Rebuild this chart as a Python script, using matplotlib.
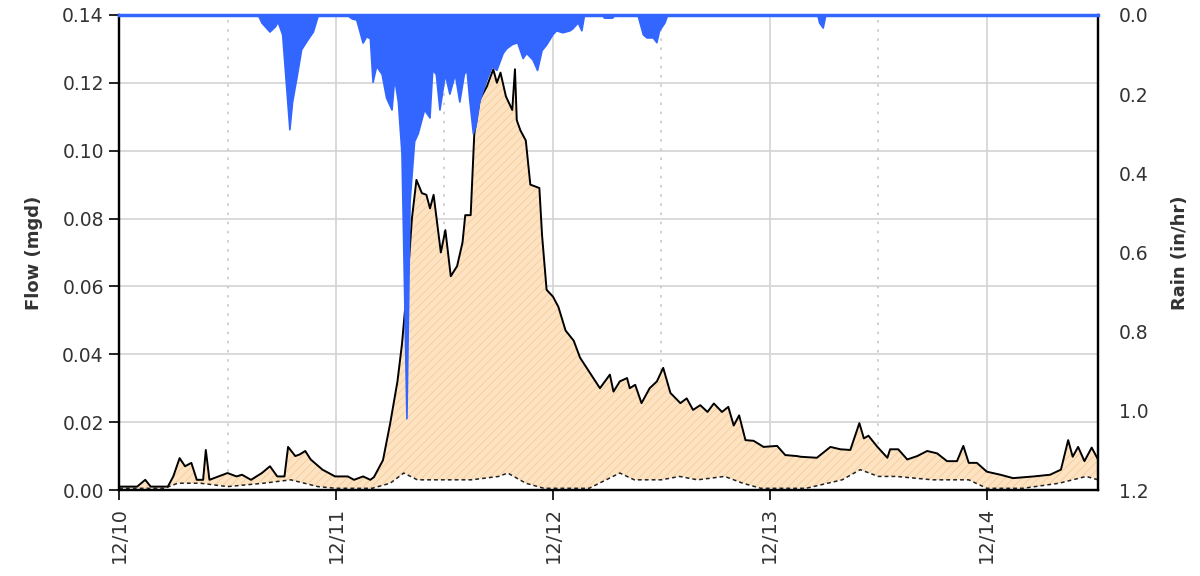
import matplotlib
matplotlib.use("Agg")
import matplotlib.pyplot as plt
import numpy as np

# ---- data (hours since 12/10 00:00) ----
flow_hours = [0, 2.0, 2.9, 3.5, 5.4, 6.0, 6.7, 7.3, 8.0, 8.6, 9.3, 9.6, 10.0, 11.0, 12.0, 13.0, 13.6,
              14.6, 15.8, 16.7, 17.5, 18.3, 18.7, 19.5, 20.0, 20.6, 21.2, 22.5, 23.9, 25.3, 26.0, 27.0,
              27.8, 28.2, 29.2, 30.0, 30.8, 31.3, 31.9, 32.4, 32.9, 33.5, 34.0, 34.4, 34.8, 35.6, 36.1,
              36.7, 37.4, 38.0, 38.3, 38.9, 39.3, 39.9, 40.7, 41.4, 41.8, 42.2, 42.8, 43.5, 43.8, 44.0,
              44.4, 45.0, 45.5, 46.5, 46.8, 47.3, 48.0, 48.6, 49.4, 50.3, 51.0, 52.1, 53.2, 54.3, 54.7,
              55.4, 56.2, 56.5, 57.1, 57.8, 58.7, 59.5, 60.2, 61.0, 62.1, 62.8, 63.5, 64.3, 65.1, 65.8,
              66.7, 67.4, 68.0, 68.6, 69.3, 70.2, 71.3, 72.8, 73.7, 75.0, 75.4, 77.2, 78.7, 79.8, 80.9,
              81.9, 82.4, 82.9, 83.9, 85.0, 85.3, 86.2, 87.2, 88.3, 89.4, 90.5, 91.6, 92.7, 93.4, 94.0,
              94.9, 96.0, 97.5, 98.9, 101.2, 103.0, 104.2, 105.0, 105.5, 106.1, 106.8, 107.6, 108.3]
flow_mgd = [0.001, 0.001, 0.003, 0.001, 0.001, 0.004, 0.0094, 0.007, 0.008, 0.003, 0.003, 0.0118, 0.003,
            0.004, 0.005, 0.004, 0.0045, 0.003, 0.005, 0.007, 0.004, 0.004, 0.0127, 0.010, 0.0105, 0.0115,
            0.009, 0.006, 0.004, 0.004, 0.003, 0.004, 0.003, 0.0038, 0.0088, 0.0197, 0.032, 0.043, 0.061,
            0.080, 0.0914, 0.0875, 0.087, 0.083, 0.087, 0.070, 0.0766, 0.063, 0.066, 0.073, 0.081, 0.081,
            0.105, 0.115, 0.119, 0.124, 0.120, 0.123, 0.116, 0.112, 0.124, 0.109, 0.106, 0.103, 0.090,
            0.089, 0.075, 0.059, 0.057, 0.054, 0.047, 0.044, 0.039, 0.0345, 0.030, 0.034, 0.029, 0.032,
            0.033, 0.030, 0.031, 0.0256, 0.030, 0.032, 0.036, 0.0286, 0.0256, 0.027, 0.0236, 0.025, 0.023,
            0.0255, 0.023, 0.0245, 0.019, 0.022, 0.0147, 0.0145, 0.0127, 0.013, 0.0103, 0.010, 0.0098,
            0.0095, 0.0127, 0.012, 0.0118, 0.0197, 0.0152, 0.016, 0.0127, 0.0095, 0.012, 0.012, 0.009,
            0.010, 0.0115, 0.0108, 0.0085, 0.0085, 0.013, 0.008, 0.008, 0.0054, 0.0045, 0.0035, 0.004,
            0.0045, 0.006, 0.0147, 0.0098, 0.0127, 0.0085, 0.0125, 0.009]

base_hours = [0, 5, 6.5, 9, 12, 16, 19, 22, 24, 28, 30, 31.5, 33, 36, 39, 42, 43, 45, 47, 52, 55.4, 57,
              60, 62, 64, 67, 69, 71, 76, 80, 82, 84, 86, 90, 94, 96, 100, 104, 107, 108.3]
base_mgd = [0.0005, 0.0005, 0.002, 0.002, 0.001, 0.002, 0.003, 0.001, 0.0005, 0.0005, 0.002, 0.005,
            0.003, 0.003, 0.003, 0.004, 0.005, 0.002, 0.0005, 0.0005, 0.005, 0.003, 0.003, 0.004, 0.003,
            0.004, 0.002, 0.0005, 0.0005, 0.003, 0.006, 0.004, 0.004, 0.003, 0.003, 0.0005, 0.0005,
            0.002, 0.004, 0.003]

rain_hours = [0, 15.4, 15.8, 16.7, 17.3, 17.6, 18.1, 18.6, 18.9, 19.2, 19.7, 20.2, 20.9, 21.5, 22.0, 22.2,
              25.2, 25.8, 26.3, 27.0, 27.4, 27.8, 28.1, 28.5, 29.1, 29.6, 30.2, 30.5, 30.9, 31.3, 31.5,
              31.85, 32.2, 32.7, 33.1, 33.8, 34.4, 34.7, 35.1, 35.5, 36.1, 36.6, 37.2, 37.7, 38.2, 38.5,
              38.8, 39.2, 39.5, 39.9, 40.6, 41.3, 41.8, 42.5, 42.9, 43.5, 44.1, 44.7, 45.1, 45.8, 46.3,
              46.8, 47.3, 48.0, 48.4, 49.1, 49.9, 50.2, 50.8, 51.2, 51.5, 53.5, 53.7, 54.6, 54.9, 57.4,
              58.0, 58.4, 59.1, 59.5, 59.8, 60.4, 60.7, 77.3, 77.5, 77.9, 78.2, 108.3]
rain_inhr = [0, 0, 0.02, 0.043, 0.03, 0.018, 0.05, 0.2, 0.29, 0.22, 0.156, 0.088, 0.063, 0.043, 0.005, 0,
             0, 0.01, 0.013, 0.071, 0.055, 0.06, 0.17, 0.13, 0.15, 0.21, 0.24, 0.16, 0.22, 0.35, 0.59,
             1.02, 0.47, 0.32, 0.30, 0.24, 0.26, 0.14, 0.15, 0.24, 0.15, 0.2, 0.15, 0.22, 0.15, 0.14,
             0.215, 0.30, 0.28, 0.22, 0.17, 0.13, 0.14, 0.097, 0.085, 0.075, 0.07, 0.11, 0.097, 0.114,
             0.14, 0.09, 0.076, 0.05, 0.04, 0.045, 0.04, 0.035, 0.02, 0.04, 0, 0, 0.008, 0.008, 0, 0,
             0.05, 0.058, 0.058, 0.07, 0.04, 0.02, 0, 0, 0.02, 0.033, 0, 0]

day_ticks = [0, 24, 48, 72, 96]
day_labels = ["12/10", "12/11", "12/12", "12/13", "12/14"]
half_ticks = [12, 36, 60, 84]
flow_ticks = [0.00, 0.02, 0.04, 0.06, 0.08, 0.10, 0.12, 0.14]
rain_ticks = [0.0, 0.2, 0.4, 0.6, 0.8, 1.0, 1.2]

# ---- plot ----
plt.rcParams['font.family'] = ['DejaVu Sans']
plt.rcParams['hatch.linewidth'] = 0.6
txt = '#333333'
tick_fs = 13.5

fig = plt.figure(figsize=(12, 5.76), dpi=100)
ax = fig.add_axes([0.0992, 0.1493, 0.8158, 0.8247])
ax.set_xlim(0, 108.3)
ax.set_ylim(0, 0.14)

# grid
for v in flow_ticks[1:-1]:
    ax.axhline(v, color='#d3d3d3', lw=1.2, zorder=0)
for d in day_ticks[1:]:
    ax.axvline(d, color='#d3d3d3', lw=1.2, zorder=0)
for d in half_ticks:
    ax.axvline(d, color='#c8c8c8', lw=1.2, ls=(0, (1.5, 4)), zorder=0)

ax.fill_between(flow_hours, 0, flow_mgd, facecolor='#fde3c2', edgecolor='#f6cc9a',
                hatch='////', linewidth=0, zorder=1)
ax.fill_between(base_hours, 0, base_mgd, facecolor='white', linewidth=0, zorder=2)
ax.plot(base_hours, base_mgd, color='#222222', lw=1.1, ls=(0, (2.5, 2.0)), zorder=3)
ax.plot(flow_hours, flow_mgd, color='black', lw=1.4, zorder=4)

ax.set_yticks(flow_ticks)
ax.set_yticklabels([f"{v:.2f}" for v in flow_ticks])
ax.set_xticks(day_ticks)
ax.set_xticklabels(day_labels, rotation=90)
ax.tick_params(axis='both', colors='black', labelcolor=txt, labelsize=tick_fs,
               direction='out', length=7, width=1.2, pad=4)
ax.tick_params(axis='x', pad=5, labelsize=14)
ax.set_ylabel("Flow (mgd)", fontsize=13, fontweight='bold', color=txt, labelpad=14)
for s in ['left', 'bottom', 'right']:
    ax.spines[s].set_linewidth(1.6)
    ax.spines[s].set_color('black')
ax.spines['top'].set_visible(False)

ax2 = ax.twinx()
ax2.set_ylim(1.2, 0)
ax2.fill_between(rain_hours, 0, rain_inhr, facecolor='#3366ff', linewidth=0, zorder=5)
ax2.plot(rain_hours, rain_inhr, color='#3366ff', lw=1.2, zorder=6)
ax2.set_yticks(rain_ticks)
ax2.set_yticklabels([f"{v:.1f}" for v in rain_ticks])
ax2.tick_params(axis='y', colors='black', labelcolor=txt, labelsize=tick_fs,
                direction='out', length=0, width=1.0, pad=15)
ax2.set_ylabel("Rain (in/hr)", fontsize=13, fontweight='bold', color=txt, labelpad=16)
for s in ['left', 'bottom', 'right']:
    ax2.spines[s].set_linewidth(1.6)
    ax2.spines[s].set_color('black')
ax2.spines['top'].set_visible(True)
ax2.spines['top'].set_color('#3366ff')
ax2.spines['top'].set_linewidth(2.5)
ax2.set_xlim(0, 108.3)

fig.savefig("out.png", dpi=100)
